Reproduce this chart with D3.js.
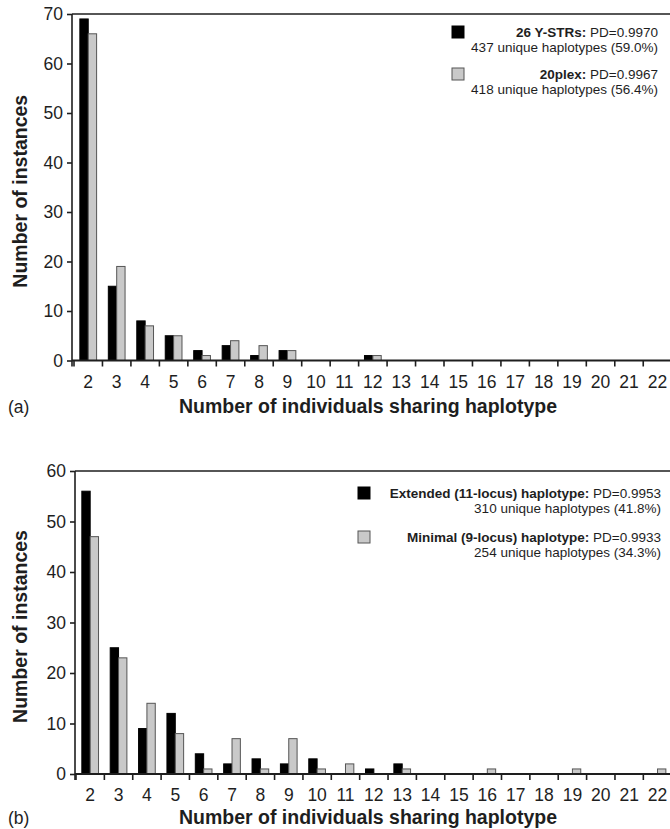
<!DOCTYPE html>
<html>
<head>
<meta charset="utf-8">
<script src="https://cdn.jsdelivr.net/npm/d3@7"></script>
<style>
  html, body { margin: 0; padding: 0; background: #fff; }
  svg { display: block; font-family: "Liberation Sans", Arial, Helvetica, sans-serif; }
</style>
</head>
<body>
<svg id="chart" width="670" height="829"></svg>
<script>

// Categories: number of individuals sharing a haplotype
const categories = d3.range(2, 23).map(String);

// Panel (a)
const a_ystr26 = [69, 15, 8, 5, 2, 3, 1, 2, 0, 0, 1, 0, 0, 0, 0, 0, 0, 0, 0, 0, 0];
const a_plex20 = [66, 19, 7, 5, 1, 4, 3, 2, 0, 0, 1, 0, 0, 0, 0, 0, 0, 0, 0, 0, 0];
const a_ticks  = [0, 10, 20, 30, 40, 50, 60, 70];

// Panel (b)
const b_extended = [56, 25, 9, 12, 4, 2, 3, 2, 3, 0, 1, 2, 0, 0, 0, 0, 0, 0, 0, 0, 0];
const b_minimal  = [47, 23, 14, 8, 1, 7, 1, 7, 1, 2, 0, 1, 0, 0, 1, 0, 0, 1, 0, 0, 1];
const b_ticks    = [0, 10, 20, 30, 40, 50, 60];

const a_legend = [
  { bold: "26 Y-STRs:", rest: " PD=0.9970", sub: "437 unique haplotypes (59.0%)" },
  { bold: "20plex:", rest: " PD=0.9967", sub: "418 unique haplotypes (56.4%)" }
];
const b_legend = [
  { bold: "Extended (11-locus) haplotype:", rest: " PD=0.9953", sub: "310 unique haplotypes (41.8%)" },
  { bold: "Minimal (9-locus) haplotype:", rest: " PD=0.9933", sub: "254 unique haplotypes (34.3%)" }
];

const INK = "#1e1e1e";
const FILLS = ["#000000", "#c9c9c9"];
const STROKES = ["#000000", "#555555"];

const svg = d3.select("#chart");


function drawPanel(cfg)
{
  let g = svg.append("g");

  let x = d3.scaleBand()
      .domain(categories)
      .range([cfg.x0, 671.7])
      .paddingInner(0)
      .paddingOuter(0);

  // two bars per category, centred in the band
  let xs = d3.scaleBand()
      .domain([0, 1])
      .range([0, x.bandwidth()])
      .paddingInner(0)
      .paddingOuter(0.7);

  let y = d3.scaleLinear()
      .domain([0, d3.max(cfg.ticks)])
      .range([cfg.y0, cfg.y1]);

  // bars
  cfg.series.forEach((values, s) =>
  {
    g.append("g")
      .selectAll("rect")
      .data(values.map((v, i) => ({ cat: categories[i], v: v })).filter(d => d.v > 0))
      .enter()
      .append("rect")
        .attr("x", d => x(d.cat) + xs(s))
        .attr("y", d => y(d.v))
        .attr("width", xs.bandwidth())
        .attr("height", d => y(0) - y(d.v))
        .attr("fill", FILLS[s])
        .attr("stroke", STROKES[s])
        .attr("stroke-width", 1);
  });

  // top frame line
  g.append("line")
      .attr("x1", cfg.yAxisX).attr("x2", 670)
      .attr("y1", y(d3.max(cfg.ticks))).attr("y2", y(d3.max(cfg.ticks)))
      .attr("stroke", INK).attr("stroke-width", 1.6);

  // y axis
  let yAxis = g.append("g")
      .attr("transform", "translate(" + cfg.yAxisX + ",0)")
      .call(d3.axisLeft(y).tickValues(cfg.ticks).tickSize(5).tickPadding(4));
  yAxis.select(".domain").attr("stroke", INK).attr("stroke-width", 1.6)
      .attr("d", "M0," + (cfg.y0 + 6) + "V" + cfg.y1);
  yAxis.selectAll(".tick line").attr("stroke", INK).attr("stroke-width", 1.6);
  yAxis.selectAll(".tick text")
      .attr("fill", INK)
      .attr("font-size", 17.5)
      .attr("font-family", null);

  // x axis: baseline, boundary ticks and centred labels
  g.append("line")
      .attr("x1", cfg.yAxisX).attr("x2", 670)
      .attr("y1", y(0)).attr("y2", y(0))
      .attr("stroke", INK).attr("stroke-width", 1.8);

  let bounds = categories.map(c => x(c)).concat([x.range()[1]]);
  g.append("g")
    .selectAll("line")
    .data(bounds)
    .enter()
    .append("line")
      .attr("x1", d => d).attr("x2", d => d)
      .attr("y1", y(0)).attr("y2", y(0) + 6)
      .attr("stroke", INK).attr("stroke-width", 1.6);

  g.append("g")
    .selectAll("text")
    .data(categories)
    .enter()
    .append("text")
      .attr("x", d => x(d) + x.bandwidth() / 2)
      .attr("y", y(0) + 27)
      .attr("text-anchor", "middle")
      .attr("font-size", 17.5)
      .attr("fill", INK)
      .text(d => d);

  // axis titles
  g.append("text")
      .attr("transform", "translate(" + cfg.yTitleX + "," + ((cfg.y0 + cfg.y1) / 2 + 4) + ") rotate(-90)")
      .attr("text-anchor", "middle")
      .attr("font-size", 19.5)
      .attr("font-weight", "bold")
      .attr("fill", INK)
      .text("Number of instances");

  g.append("text")
      .attr("x", 368)
      .attr("y", cfg.xTitleY)
      .attr("text-anchor", "middle")
      .attr("font-size", 19.5)
      .attr("font-weight", "bold")
      .attr("fill", INK)
      .text("Number of individuals sharing haplotype");

  g.append("text")
      .attr("x", 8)
      .attr("y", cfg.xTitleY)
      .attr("font-size", 17.5)
      .attr("fill", INK)
      .text(cfg.tag);

  // legend: box + right-aligned two-line entry
  let legend = g.append("g");
  cfg.legend.forEach((item, i) =>
  {
    let top = cfg.legendY + i * cfg.legendGap;
    legend.append("rect")
        .attr("x", cfg.legendBoxX)
        .attr("y", top)
        .attr("width", 12)
        .attr("height", 12)
        .attr("fill", FILLS[i])
        .attr("stroke", STROKES[i])
        .attr("stroke-width", 1);

    let line1 = legend.append("text")
        .attr("x", cfg.legendRight)
        .attr("y", top + 10.5)
        .attr("text-anchor", "end")
        .attr("font-size", 13.5)
        .attr("fill", INK);
    line1.append("tspan").attr("font-weight", "bold").text(item.bold);
    line1.append("tspan").text(item.rest);

    legend.append("text")
        .attr("x", cfg.legendRight)
        .attr("y", top + 26)
        .attr("text-anchor", "end")
        .attr("font-size", 13.5)
        .attr("fill", INK)
        .text(item.sub);
  });
}


drawPanel({
  series: [a_ystr26, a_plex20],
  ticks: a_ticks,
  x0: 74, yAxisX: 72,
  y0: 360.5, y1: 14,
  yTitleX: 27, xTitleY: 413,
  tag: "(a)",
  legend: a_legend,
  legendBoxX: 452, legendY: 26, legendGap: 42, legendRight: 658
});

drawPanel({
  series: [b_extended, b_minimal],
  ticks: b_ticks,
  x0: 76, yAxisX: 75,
  y0: 774, y1: 471,
  yTitleX: 27, xTitleY: 824,
  tag: "(b)",
  legend: b_legend,
  legendBoxX: 358, legendY: 487, legendGap: 44, legendRight: 661
});

</script>
</body>
</html>
